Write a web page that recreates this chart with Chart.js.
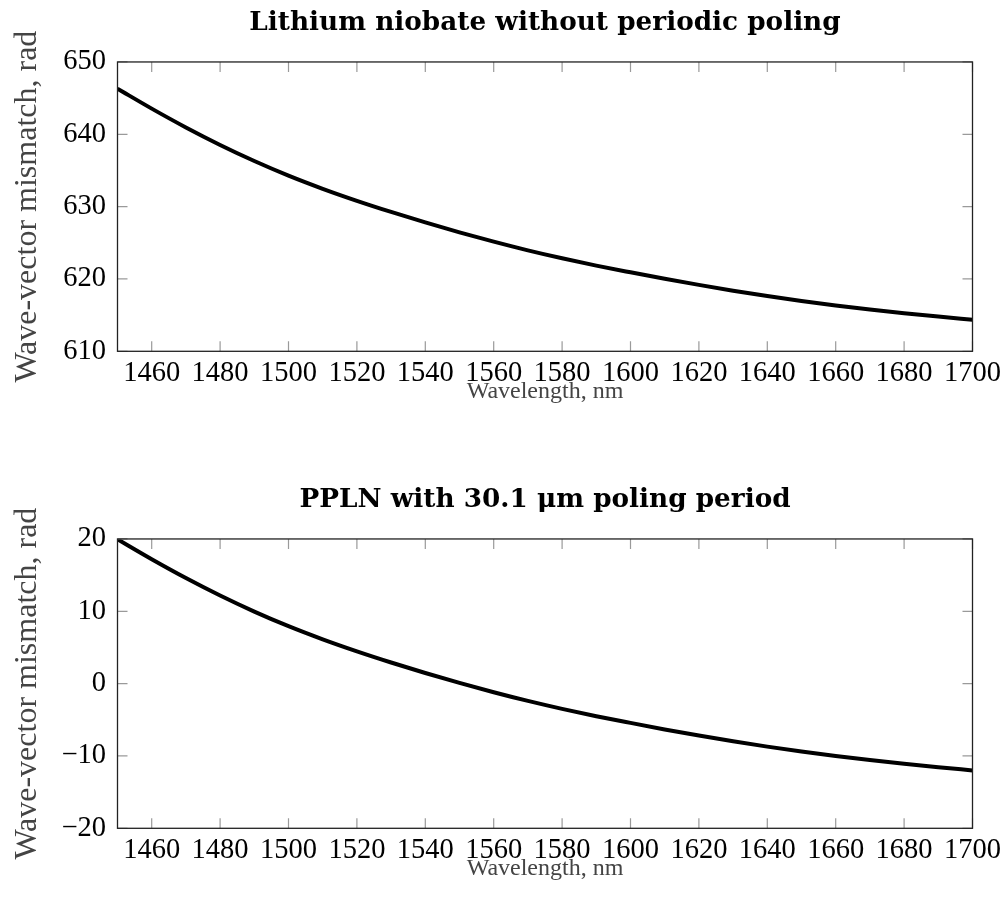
<!DOCTYPE html>
<html>
<head>
<meta charset="utf-8">
<script src="https://cdn.jsdelivr.net/npm/chart.js@4.4.1/dist/chart.umd.min.js"></script>
<style>
html, body { margin: 0; padding: 0; background: #fff; }
#wrap { position: relative; width: 1006px; height: 903px; }
canvas { position: absolute; left: 0; }
#lnChart { top: 0; }
#pplnChart { top: 477px; }
</style>
</head>
<body>
<div id="wrap">
  <canvas id="lnChart" width="1006" height="426"></canvas>
  <canvas id="pplnChart" width="1006" height="426"></canvas>
</div>
<script>
const wavelengths = [1450, 1460, 1470, 1480, 1490, 1500, 1510, 1520, 1530, 1540, 1550, 1560, 1570,
    1580, 1590, 1600, 1610, 1620, 1630, 1640, 1650, 1660, 1670, 1680, 1690, 1700];

// bulk LiNbO3, rad
const mismatchBulk = [646.3, 643.55, 640.95, 638.53, 636.31, 634.29, 632.47, 630.81, 629.27, 627.82,
    626.45, 625.16, 623.96, 622.86, 621.85, 620.92, 620.02, 619.18, 618.38, 617.64, 616.96, 616.34,
    615.78, 615.27, 614.8, 614.35];

// PPLN, 30.1 um period, rad
const mismatchPPLN = [19.95, 17.2, 14.6, 12.18, 9.96, 7.94, 6.12, 4.46, 2.92, 1.47, 0.1, -1.19, -2.39,
    -3.49, -4.5, -5.43, -6.33, -7.17, -7.97, -8.71, -9.39, -10.01, -10.57, -11.08, -11.55, -12.0];

const xTickValues = [1460, 1480, 1500, 1520, 1540, 1560, 1580, 1600, 1620, 1640, 1660, 1680, 1700];
const bulkRange = [610, 650];
const pplnRange = [-20, 20];
const yStep = 10;

const serif = "'Liberation Serif', 'Times New Roman', serif";

// frame around the plot area plus pgfplots-style ticks pointing inward on all four sides
const frameTicks = {
    id: 'frameTicks',
    afterDatasetsDraw(chart) {
        const { ctx, chartArea: a, scales } = chart;
        const len = 10;
        ctx.save();
        ctx.strokeStyle = '#9a9a9a';
        ctx.lineWidth = 1.2;
        ctx.beginPath();
        scales.x.ticks.forEach(t => {
            const px = scales.x.getPixelForValue(t.value);
            ctx.moveTo(px, a.bottom); ctx.lineTo(px, a.bottom - len);
            ctx.moveTo(px, a.top); ctx.lineTo(px, a.top + len);
        });
        scales.y.ticks.forEach(t => {
            const py = scales.y.getPixelForValue(t.value);
            ctx.moveTo(a.left, py); ctx.lineTo(a.left + len, py);
            ctx.moveTo(a.right, py); ctx.lineTo(a.right - len, py);
        });
        ctx.stroke();
        ctx.strokeStyle = '#222';
        ctx.lineWidth = 1.3;
        ctx.strokeRect(a.left, a.top, a.right - a.left, a.bottom - a.top);
        ctx.restore();
    }
};

function fmtTick(v) {
    return v < 0 ? '\u2212' + Math.abs(v) : String(v);
}

function makeChart(id, title, values, range) {
    return new Chart(document.getElementById(id), {
        type: 'line',
        data: {
            datasets: [{
                data: wavelengths.map((w, i) => ({ x: w, y: values[i] })),
                borderColor: '#000',
                borderWidth: 4,
                pointRadius: 0,
                cubicInterpolationMode: 'monotone',
                fill: false
            }]
        },
        options: {
            responsive: false,
            animation: false,
            events: [],
            layout: { padding: { left: 0, right: 32, top: 0, bottom: 0 } },
            plugins: {
                legend: { display: false },
                tooltip: { enabled: false },
                title: {
                    display: true,
                    text: title,
                    fullSize: false,
                    color: '#000',
                    font: { family: "'DejaVu Serif', serif", size: 26.3, weight: 'bold', lineHeight: 1.2 },
                    padding: { top: 7.2, bottom: 23.2 }
                }
            },
            scales: {
                x: {
                    type: 'linear',
                    min: wavelengths[0],
                    max: wavelengths[wavelengths.length - 1],
                    afterBuildTicks: s => { s.ticks = xTickValues.map(v => ({ value: v })); },
                    afterFit: s => { s.height = 74.7; },
                    grid: { display: false, drawTicks: false },
                    border: { display: false },
                    ticks: {
                        color: '#000',
                        padding: 5,
                        maxRotation: 0,
                        autoSkip: false,
                        font: { family: serif, size: 28.5, lineHeight: 1.2 },
                        callback: v => fmtTick(v)
                    },
                    title: {
                        display: true,
                        text: 'Wavelength, nm',
                        color: '#444',
                        font: { family: serif, size: 24, lineHeight: 1.2 },
                        padding: { top: 0, bottom: 19.6 }
                    }
                },
                y: {
                    min: range[0],
                    max: range[1],
                    afterFit: s => { s.width = 117.5; },
                    grid: { display: false, drawTicks: false },
                    border: { display: false },
                    ticks: {
                        stepSize: yStep,
                        color: '#000',
                        padding: 11.5,
                        font: { family: serif, size: 28.5, lineHeight: 1.2 },
                        callback: v => fmtTick(v)
                    },
                    title: {
                        display: true,
                        text: 'Wave-vector mismatch, rad',
                        color: '#444',
                        font: { family: serif, size: 32, lineHeight: 1.2 },
                        padding: { top: 8.8, bottom: 0 }
                    }
                }
            }
        },
        plugins: [frameTicks]
    });
}

makeChart('lnChart', 'Lithium niobate without periodic poling', mismatchBulk, bulkRange);
makeChart('pplnChart', 'PPLN with 30.1 \u03bcm poling period', mismatchPPLN, pplnRange);
</script>
</body>
</html>
